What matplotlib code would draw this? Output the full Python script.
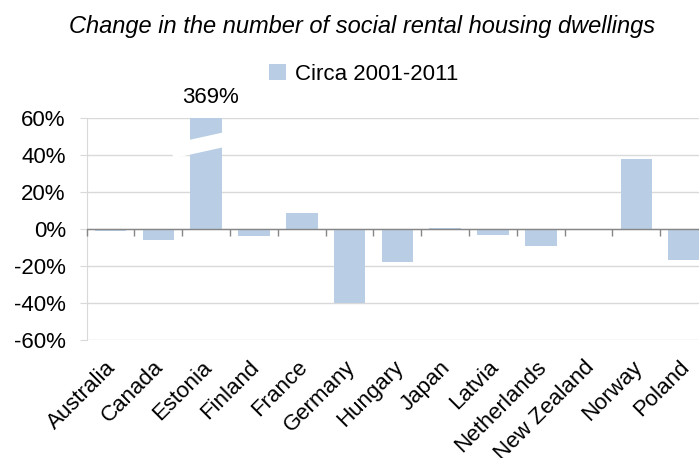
import numpy as np
import matplotlib.pyplot as plt
import matplotlib.transforms as mtransforms
from matplotlib.patches import Polygon

countries = ["Australia", "Canada", "Estonia", "Finland", "France", "Germany",
             "Hungary", "Japan", "Latvia", "Netherlands", "New Zealand", "Norway", "Poland"]
change = [-1.3, -5.8, 369, -4.0, 8.6, -40.0, -18.0, 0.7, -3.0, -9.4, 0.0, 37.7, -17.0]
series_name = "Circa 2001-2011"
yticks = [-60, -40, -20, 0, 20, 40, 60]

plt.rcParams['font.family'] = ['Liberation Sans', 'DejaVu Sans']
bar_color = '#B9CDE5'
grid_color = '#D9D9D9'

fig = plt.figure(figsize=(6.99, 4.58), dpi=100)
ax = fig.add_axes([0.124, 0.2576, 0.876, 0.4848])

x = np.arange(len(countries))
ax.bar(x, change, width=0.66, color=bar_color, label=series_name, zorder=2)

ax.set_ylim(-60, 60)
ax.set_xlim(-0.5, 12.31)
ax.set_yticks(yticks)
ax.set_yticklabels([f"{v}%" for v in yticks], fontsize=16)
ax.set_xticks(x)
ax.set_xticklabels(countries, rotation=45, ha='right', rotation_mode='anchor', fontsize=16)
ax.tick_params(axis='x', length=0, pad=12)
ax.tick_params(axis='y', length=5, color=grid_color, pad=10)
ax.grid(axis='y', color=grid_color, linewidth=1, zorder=0)

# nudge the rotated labels a little to the left
shift = mtransforms.ScaledTranslation(-5 / 100, 0, fig.dpi_scale_trans)
for lbl in ax.get_xticklabels():
    lbl.set_transform(lbl.get_transform() + shift)

for s in ['top', 'right', 'bottom']:
    ax.spines[s].set_visible(False)
ax.spines['left'].set_color(grid_color)

# zero line with category boundary ticks
ax.axhline(0, color='#868686', linewidth=1, zorder=3)
ax.vlines(np.arange(len(countries) - 1) + 0.5, -3.6, 0, color='#868686', linewidth=1, zorder=3)
ax.vlines([-0.5], -3.6, 0, color='#868686', linewidth=1, zorder=3, clip_on=False)

# axis break on the clipped Estonia bar
i = countries.index("Estonia")
brk = Polygon([(i - 0.7, 38.1), (i + 0.36, 44.2), (i + 0.36, 52.2), (i - 0.7, 46.2)],
              closed=True, facecolor='white', edgecolor='none', zorder=2.5)
ax.add_patch(brk)
ax.text(i + 0.1, 71, f"{change[i]:.0f}%", ha='center', va='center', fontsize=16, clip_on=False)

fig.text(0.518, 0.943, "Change in the number of social rental housing dwellings",
         ha='center', va='center', fontsize=17, style='italic')
fig.legend(loc='center', bbox_to_anchor=(0.52, 0.838), frameon=False, fontsize=16,
           handlelength=0.75, handleheight=0.75, handletextpad=0.4)

fig.savefig("out.png", dpi=100)
